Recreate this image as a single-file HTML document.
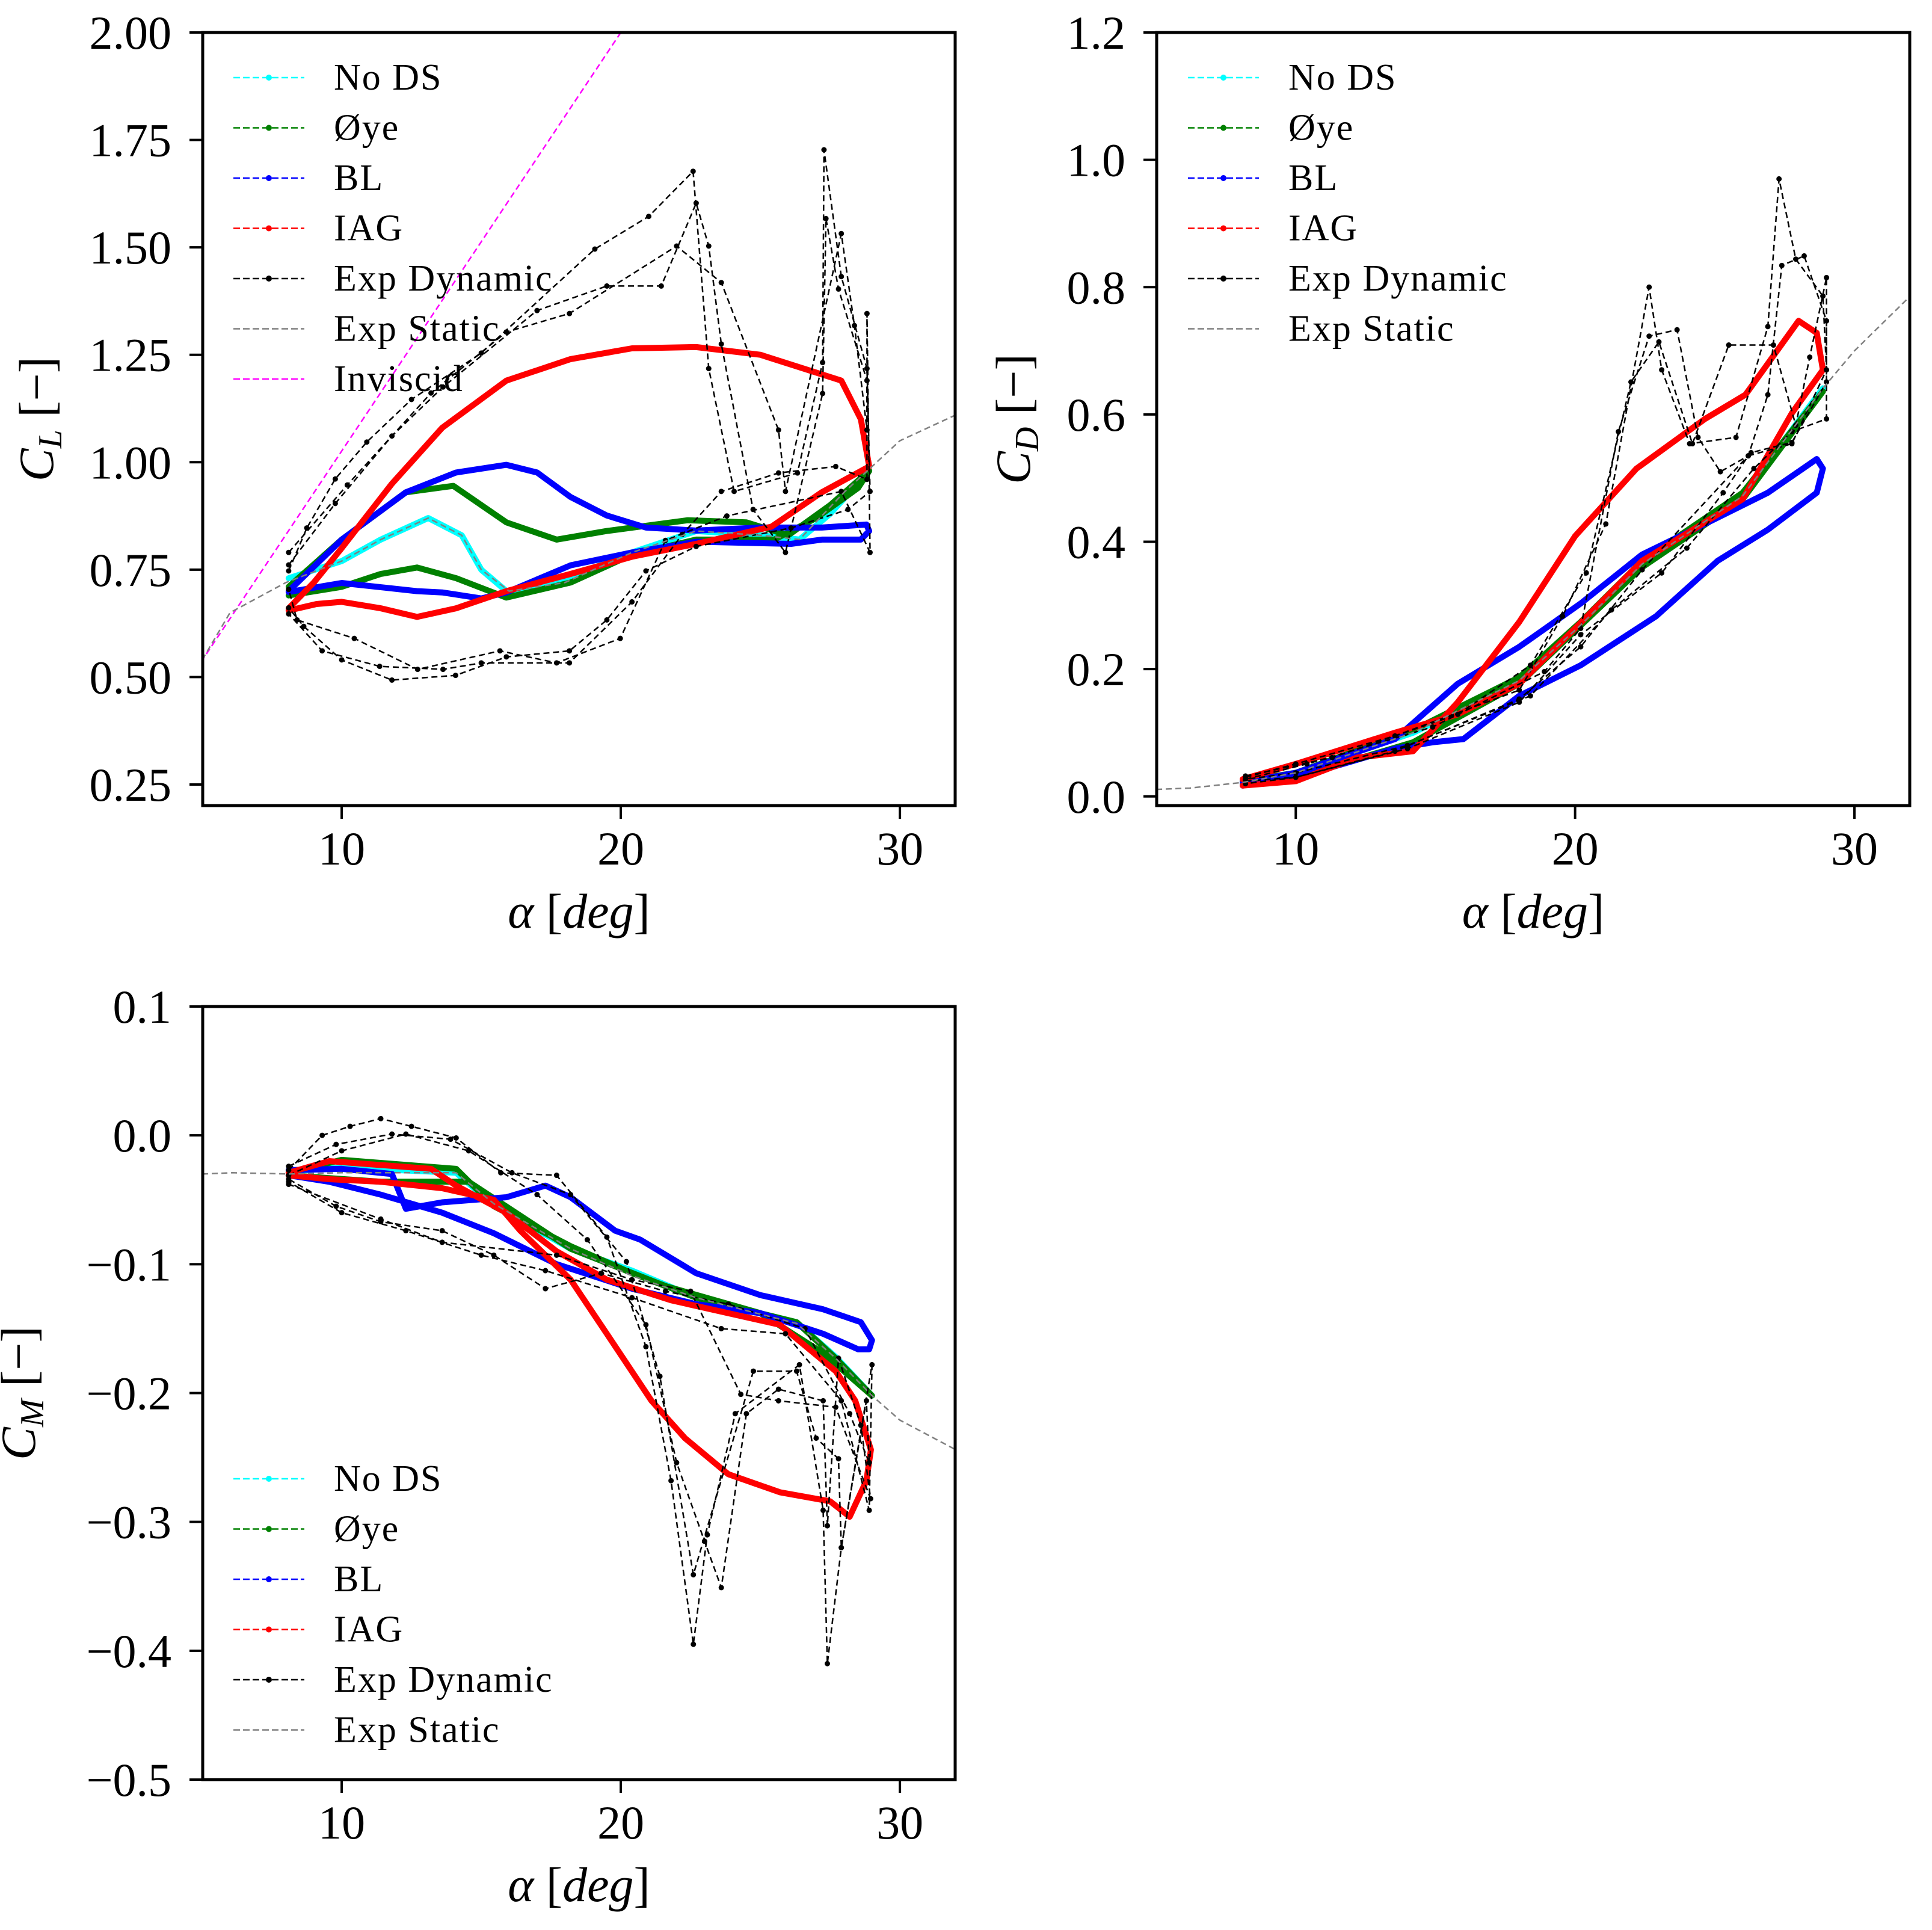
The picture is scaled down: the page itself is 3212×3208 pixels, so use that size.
<!DOCTYPE html>
<html><head><meta charset="utf-8"><style>
html,body{margin:0;padding:0;background:#fff}
svg{display:block;font-family:"Liberation Serif","DejaVu Serif",serif}
</style></head><body>
<svg id="fig" width="3212" height="3208" viewBox="0 0 3212 3208" xmlns="http://www.w3.org/2000/svg"></svg>
<script>
// ---------- DATA ----------
const xTicks = [10, 20, 30];
const clTicks = [0.25, 0.50, 0.75, 1.00, 1.25, 1.50, 1.75, 2.00];
const cdTicks = [0.0, 0.2, 0.4, 0.6, 0.8, 1.0, 1.2];
const cmTicks = [-0.5, -0.4, -0.3, -0.2, -0.1, 0.0, 0.1];

const clIAG = [[8.1,0.66],[9,0.72],[10,0.80],[11.8,0.95],[13.6,1.08],[15.9,1.19],[18.2,1.24],[20.4,1.265],[22.7,1.268],[25,1.25],[27.9,1.19],[28.6,1.10],[28.9,0.99],[27.2,0.93],[25.4,0.85],[22.7,0.81],[20.4,0.78],[18.2,0.74],[15.9,0.70],[14.1,0.66],[12.7,0.64],[11.4,0.66],[10,0.675],[9.1,0.67],[8.1,0.655]];
const clBL = [[8.1,0.70],[10,0.82],[12.3,0.93],[14.1,0.976],[15.9,0.994],[17,0.976],[18.2,0.919],[19.5,0.876],[20.9,0.848],[22.7,0.841],[25,0.848],[27.2,0.848],[28.8,0.855],[28.9,0.84],[28.6,0.82],[27.2,0.82],[26.1,0.81],[22.7,0.815],[20.4,0.79],[18.2,0.76],[15.9,0.697],[15,0.683],[13.6,0.697],[12.7,0.70],[10,0.719],[8.1,0.698]];
const clOye = [[8.1,0.71],[10,0.82],[12.3,0.93],[14,0.945],[15.9,0.86],[17.7,0.82],[19.5,0.84],[22.4,0.865],[24.5,0.86],[26,0.83],[27.5,0.90],[28.9,0.98],[28.5,0.94],[27,0.87],[25.5,0.82],[22.7,0.82],[20.4,0.785],[18.2,0.72],[15.9,0.685],[14.1,0.73],[12.7,0.755],[11.4,0.74],[10,0.71],[8.1,0.69]];
const clNoDS = [[8.1,0.73],[10,0.77],[11.4,0.82],[13.1,0.87],[14.3,0.83],[15,0.75],[15.9,0.70],[17.7,0.72],[20.4,0.79],[22.7,0.84],[25,0.83],[26.4,0.82],[27.5,0.88],[28.9,0.98]];
const clStatic = [[5,0.54],[6,0.65],[8,0.72],[10,0.77],[11.4,0.82],[13.1,0.87],[14.3,0.83],[15,0.75],[16,0.70],[18,0.72],[20.4,0.79],[22.7,0.84],[25,0.83],[26.4,0.82],[28,0.93],[30,1.05],[32,1.11]];
const clInviscid = [[4.96,0.535],[20.0,2.0]];
const clExp1 = [[8.1,0.747],[8.75,0.847],[9.77,0.961],[10.9,1.047],[12.5,1.146],[15.0,1.254],[19.07,1.496],[21.0,1.572],[22.59,1.677],[23.15,1.218],[24.06,0.932],[26.33,0.975],[27.23,1.232],[27.28,1.727],[27.9,1.432],[28.82,1.218],[28.93,0.932],[28.14,0.890],[26.1,0.847],[22.7,0.804],[20.9,0.747],[19.5,0.633],[18.16,0.561],[15.9,0.547],[14.08,0.504],[11.8,0.493],[10,0.54],[8.64,0.618],[8.1,0.661]];
const clExp2 = [[8.1,0.761],[9.77,0.904],[11.8,1.061],[13.63,1.175],[17.0,1.353],[19.5,1.41],[21.45,1.41],[22.7,1.603],[23.15,1.503],[23.6,1.275],[24.74,0.89],[25.9,0.79],[27.23,1.16],[27.35,1.567],[27.8,1.403],[28.82,1.19],[28.82,0.96],[27.7,0.99],[25.65,0.975],[23.6,0.932],[22.2,0.832],[20.4,0.675],[18.16,0.533],[15.0,0.533],[13.63,0.518],[11.36,0.525],[9.3,0.561],[8.1,0.647]];
const clExp3 = [[8.1,0.79],[10.2,0.947],[13.2,1.161],[15.9,1.303],[18.16,1.346],[22.0,1.503],[23.6,1.418],[25.65,1.075],[25.9,0.932],[27.9,1.532],[28.37,1.318],[28.82,1.075],[28.82,1.346],[28.93,0.79],[27.9,0.932],[23.8,0.875],[21.6,0.818],[19.98,0.59],[17.7,0.533],[15.67,0.561],[12.72,0.518],[10.45,0.59],[8.4,0.633],[8.1,0.704]];

const cdIAG = [[8.1,0.017],[10,0.024],[12.2,0.061],[14.2,0.071],[15.8,0.148],[18.0,0.274],[20,0.409],[22.2,0.515],[24.65,0.593],[26.1,0.631],[28.0,0.747],[28.65,0.728],[28.87,0.67],[27.76,0.602],[26,0.467],[22.4,0.370],[20,0.264],[18,0.177],[15.8,0.129],[13.55,0.10],[10,0.051],[8.1,0.027]];
const cdBL = [[8.1,0.022],[10,0.037],[13.55,0.09],[15.8,0.177],[18,0.235],[20.2,0.303],[22.4,0.38],[24.65,0.428],[26.9,0.477],[28.65,0.53],[28.87,0.515],[28.65,0.477],[26.9,0.419],[25.1,0.37],[22.9,0.283],[20.2,0.206],[18,0.158],[16,0.09],[14.9,0.085],[13.55,0.075],[11.3,0.046],[8.1,0.017]];
const cdOye = [[8.1,0.024],[10,0.037],[14.2,0.104],[18,0.187],[20.2,0.274],[22.4,0.37],[26,0.477],[28.87,0.636],[26,0.467],[22.4,0.36],[18,0.177],[14.2,0.085],[10,0.03],[8.1,0.02]];
const cdNoDS = [[8.1,0.022],[10,0.037],[14.2,0.10],[18,0.182],[20.2,0.269],[22.4,0.365],[26,0.472],[28.87,0.641]];
const cdStatic = [[5,0.011],[6.2,0.013],[8.1,0.022],[10,0.037],[14.2,0.10],[18,0.182],[20.2,0.269],[22.4,0.365],[26,0.472],[28.87,0.641],[30,0.70],[32,0.786]];
const cdExp1 = [[8.2,0.03],[10,0.051],[13.55,0.095],[18,0.167],[19.55,0.283],[21.1,0.428],[22.65,0.80],[23.1,0.67],[24.1,0.554],[25.76,0.564],[26.9,0.738],[27.3,0.97],[27.9,0.844],[28.87,0.786],[29,0.67],[27.76,0.554],[26.2,0.535],[25.3,0.477],[23.1,0.351],[20.2,0.254],[18,0.148],[14,0.075],[10,0.03],[8.2,0.024]];
const cdExp2 = [[8.2,0.027],[10.4,0.051],[14.9,0.109],[18.9,0.196],[20.2,0.264],[21.55,0.573],[22.65,0.723],[23.65,0.733],[24.4,0.564],[25.2,0.51],[26.2,0.535],[26.9,0.631],[27.4,0.834],[28.2,0.849],[29,0.747],[29,0.651],[27.76,0.556],[26.3,0.54],[22.4,0.356],[20.2,0.235],[18,0.153],[13.55,0.071],[10,0.03],[8.2,0.02]];
const cdExp3 = [[8.2,0.032],[11.3,0.061],[15.8,0.129],[18.4,0.206],[20.4,0.351],[22,0.651],[23,0.714],[24.2,0.554],[25.5,0.709],[27.1,0.709],[27.9,0.583],[28.4,0.69],[29,0.815],[29,0.593],[27.76,0.573],[26.4,0.515],[24,0.39],[21.3,0.293],[18.4,0.158],[14,0.08],[10,0.037],[8.2,0.027]];

const cmIAG = [[8.1,-0.029],[9.55,-0.020],[13.2,-0.026],[14.1,-0.039],[15.9,-0.060],[17.7,-0.090],[19.5,-0.112],[21.8,-0.128],[25.7,-0.147],[27.7,-0.183],[28.4,-0.206],[28.96,-0.244],[28.8,-0.268],[28.2,-0.296],[27.5,-0.284],[25.7,-0.277],[23.85,-0.263],[22.3,-0.235],[21.1,-0.206],[19.5,-0.154],[18.2,-0.112],[16.4,-0.074],[15.45,-0.050],[13.6,-0.041],[11.4,-0.036],[9.55,-0.034],[8.1,-0.031]];
const cmBL = [[8.1,-0.027],[10,-0.026],[11.8,-0.030],[12.3,-0.057],[13.6,-0.052],[15.9,-0.048],[17.3,-0.039],[18.2,-0.048],[19.8,-0.074],[20.7,-0.081],[22.7,-0.107],[25,-0.124],[27.25,-0.135],[28.6,-0.145],[29,-0.159],[28.9,-0.166],[28.5,-0.166],[27.25,-0.154],[25,-0.138],[22.7,-0.131],[20.4,-0.119],[17.7,-0.100],[15.45,-0.076],[13.6,-0.060],[11.4,-0.046],[9.55,-0.036],[8.1,-0.031]];
const cmOye = [[8.1,-0.029],[10,-0.019],[14.1,-0.026],[15.45,-0.055],[18.2,-0.086],[20.4,-0.107],[22.7,-0.126],[26.3,-0.145],[27.7,-0.173],[29,-0.202],[27.25,-0.169],[25,-0.138],[21.6,-0.117],[18.2,-0.088],[14.55,-0.036],[11.4,-0.036],[8.1,-0.031]];
const cmNoDS = [[8.1,-0.028],[10,-0.025],[14.1,-0.029],[15.5,-0.055],[18.2,-0.088],[20.4,-0.105],[22.7,-0.126],[26.3,-0.145],[27.7,-0.172],[29,-0.202]];
const cmStatic = [[5,-0.030],[6.1,-0.029],[8.1,-0.030],[10,-0.029],[14.1,-0.029],[15.45,-0.053],[18.2,-0.088],[20.4,-0.109],[22.7,-0.126],[26.3,-0.146],[27.7,-0.173],[29,-0.202],[30,-0.221],[32,-0.244]];
const cmExp1 = [[8.1,-0.027],[9.3,0.0],[10.3,0.007],[11.4,0.013],[12.5,0.007],[14.1,-0.002],[15.7,-0.029],[17.7,-0.031],[19.5,-0.079],[20.9,-0.164],[21.8,-0.268],[22.6,-0.395],[23.1,-0.31],[24.1,-0.216],[26.4,-0.178],[27.25,-0.291],[27.4,-0.410],[27.9,-0.32],[28.8,-0.206],[28.9,-0.254],[28.2,-0.216],[26.6,-0.150],[23.85,-0.131],[21.6,-0.121],[19.3,-0.107],[17.3,-0.119],[15.45,-0.093],[13.6,-0.074],[11.4,-0.067],[9.8,-0.055],[8.1,-0.034]];
const cmExp2 = [[8.1,-0.024],[9.8,-0.007],[11.8,0.001],[13.9,-0.003],[16.1,-0.029],[18.2,-0.046],[20.2,-0.098],[21.4,-0.187],[22.6,-0.341],[24.75,-0.183],[26.3,-0.183],[27.0,-0.235],[27.8,-0.251],[27.9,-0.32],[29,-0.178],[28.9,-0.291],[27.9,-0.206],[25.9,-0.154],[23.6,-0.150],[20.4,-0.126],[17.3,-0.105],[15.0,-0.093],[12.3,-0.074],[10,-0.060],[8.1,-0.036]];
const cmExp3 = [[8.1,-0.031],[10,-0.012],[12.3,0.001],[14.55,-0.012],[17.0,-0.046],[18.8,-0.081],[20.9,-0.147],[22,-0.254],[23,-0.315],[23.6,-0.351],[24.5,-0.216],[25.65,-0.197],[27.25,-0.206],[27.4,-0.303],[27.8,-0.173],[28.6,-0.225],[28.95,-0.282],[27.7,-0.211],[25.65,-0.206],[24.3,-0.201],[22.5,-0.121],[20.4,-0.112],[17.7,-0.093],[13.6,-0.083],[11.4,-0.065],[8.1,-0.038]];

const legendLabels = ["No DS","Øye","BL","IAG","Exp Dynamic","Exp Static","Inviscid"];
const legendColors = ["#00ffff","#008000","#0000ff","#ff0000","#000000","#808080","#ff00ff"];

// ---------- DRAW ----------
const NS = "http://www.w3.org/2000/svg";
const fig = document.getElementById('fig');
function mk(tag, attrs, parent){
  const e = document.createElementNS(NS, tag);
  for (const k in attrs) e.setAttribute(k, attrs[k]);
  (parent||fig).appendChild(e);
  return e;
}
function makeAxes(name, L, T, R, B, xmin, xmax, ymin, ymax){
  const g = mk('g', {});
  
  
  const sx = v => L + (v - xmin) / (xmax - xmin) * (R - L);
  const sy = v => B - (v - ymin) / (ymax - ymin) * (B - T);
  const cp = mk('clipPath', {id: name + '-clip'}, g);
  mk('rect', {x: L, y: T, width: R - L, height: B - T}, cp);
  const plot = mk('g', {'clip-path': 'url(#' + name + '-clip)'}, g);
  return {g, plot, sx, sy, L, T, R, B};
}
function line(ax, pts, color, width, dash, name, markers){
  const d = pts.map((p,i)=>(i?'L':'M') + ax.sx(p[0]).toFixed(1) + ' ' + ax.sy(p[1]).toFixed(1)).join(' ');
  const p = mk('path', {d, fill:'none', stroke:color, 'stroke-width':width, 'stroke-linejoin':'round', 'stroke-linecap': dash ? 'butt':'round'}, ax.plot);
  if (dash) p.setAttribute('stroke-dasharray', dash);
  
  
  if (markers){
    pts.forEach(pt=>{
      const c = mk('circle', {cx: ax.sx(pt[0]), cy: ax.sy(pt[1]), r: 4.5, fill: color}, ax.plot);
      
      
    });
  }
}
function frame(ax, yTicksArr, yFmt, xLabelY, yLabelX, yLabelHTML){
  const fr = mk('rect', {x: ax.L, y: ax.T, width: ax.R - ax.L, height: ax.B - ax.T, fill:'none', stroke:'#000', 'stroke-width':5}, ax.g);
  
  
  xTicks.forEach(v=>{
    const x = ax.sx(v);
    mk('line', {x1:x, x2:x, y1:ax.B, y2:ax.B+22, stroke:'#000', 'stroke-width':4}, ax.g);
    const t = mk('text', {x:x, y:ax.B+98, 'font-size':78, 'text-anchor':'middle'}, ax.g);
    t.textContent = String(v);
    
    
  });
  yTicksArr.forEach(v=>{
    const y = ax.sy(v);
    mk('line', {x1:ax.L-22, x2:ax.L, y1:y, y2:y, stroke:'#000', 'stroke-width':4}, ax.g);
    const t = mk('text', {x:ax.L-52, y:y+27, 'font-size':78, 'text-anchor':'end'}, ax.g);
    t.textContent = yFmt(v);
    
    
  });
  const xl = mk('text', {x:(ax.L+ax.R)/2, y:xLabelY, 'font-size':82, 'text-anchor':'middle'}, ax.g);
  xl.innerHTML = '<tspan font-style="italic">α</tspan> [<tspan font-style="italic">deg</tspan>]';
  
  
  const cy = (ax.T+ax.B)/2;
  const yl = mk('text', {x:yLabelX, y:cy, 'font-size':82, 'text-anchor':'middle', transform:'rotate(-90 '+yLabelX+' '+cy+')'}, ax.g);
  yl.innerHTML = yLabelHTML;
  
  
}
function legend(ax, x0, y0, n){
  for (let i=0;i<n;i++){
    const y = y0 + i*83.5;
    const g = mk('g', {}, ax.g);
    
    
    mk('line', {x1:x0, x2:x0+118, y1:y, y2:y, stroke:legendColors[i], 'stroke-width':2.5, 'stroke-dasharray':'11 5'}, g);
    if (i < 5) mk('circle', {cx:x0+59, cy:y, r:5, fill:legendColors[i]}, g);
    const t = mk('text', {x:x0+167, y:y+20, 'font-size':62, 'letter-spacing':'2'}, g);
    t.textContent = legendLabels[i];
  }
}
const f2 = v => v.toFixed(2);
const f1 = v => (v<0 ? '−' : '') + Math.abs(v).toFixed(1);
const DASH = '10 6';

// CL
const axL = makeAxes('cl-axes', 337, 54, 1588, 1339, 5.02, 31.98, 0.201, 2.0);
line(axL, clInviscid, '#ff00ff', 2.5, DASH, 'inviscid-line');
line(axL, clNoDS, '#00ffff', 10, null, 'no-ds-line');
line(axL, clOye, '#008000', 10, null, 'oye-line');
line(axL, clBL, '#0000ff', 10, null, 'bl-line');
line(axL, clIAG, '#ff0000', 10, null, 'iag-line');
line(axL, clExp1, '#000', 2.5, DASH, 'exp-dynamic-cycle1', true);
line(axL, clExp2, '#000', 2.5, DASH, 'exp-dynamic-cycle2', true);
line(axL, clExp3, '#000', 2.5, DASH, 'exp-dynamic-cycle3', true);
line(axL, clStatic, '#808080', 2.5, DASH, 'exp-static-line');
frame(axL, clTicks, f2, 1542, 88, '<tspan font-style="italic">C</tspan><tspan font-style="italic" font-size="56" dy="14">L</tspan><tspan dy="-14"> [−]</tspan>');
legend(axL, 388, 129, 7);

// CD
const axD = makeAxes('cd-axes', 1923, 54, 3175, 1339, 5.02, 31.98, -0.0144, 1.2);
line(axD, cdNoDS, '#00ffff', 10, null, 'no-ds-line');
line(axD, cdOye, '#008000', 10, null, 'oye-line');
line(axD, cdBL, '#0000ff', 10, null, 'bl-line');
line(axD, cdIAG, '#ff0000', 10, null, 'iag-line');
line(axD, cdExp1, '#000', 2.5, DASH, 'exp-dynamic-cycle1', true);
line(axD, cdExp2, '#000', 2.5, DASH, 'exp-dynamic-cycle2', true);
line(axD, cdExp3, '#000', 2.5, DASH, 'exp-dynamic-cycle3', true);
line(axD, cdStatic, '#808080', 2.5, DASH, 'exp-static-line');
frame(axD, cdTicks, v=>v.toFixed(1), 1542, 1712, '<tspan font-style="italic">C</tspan><tspan font-style="italic" font-size="56" dy="14">D</tspan><tspan dy="-14"> [−]</tspan>');
legend(axD, 1975, 129, 6);

// CM
const axM = makeAxes('cm-axes', 337, 1673, 1588, 2958, 5.02, 31.98, -0.5, 0.1);
line(axM, cmNoDS, '#00ffff', 10, null, 'no-ds-line');
line(axM, cmOye, '#008000', 10, null, 'oye-line');
line(axM, cmBL, '#0000ff', 10, null, 'bl-line');
line(axM, cmIAG, '#ff0000', 10, null, 'iag-line');
line(axM, cmExp1, '#000', 2.5, DASH, 'exp-dynamic-cycle1', true);
line(axM, cmExp2, '#000', 2.5, DASH, 'exp-dynamic-cycle2', true);
line(axM, cmExp3, '#000', 2.5, DASH, 'exp-dynamic-cycle3', true);
line(axM, cmStatic, '#808080', 2.5, DASH, 'exp-static-line');
frame(axM, cmTicks, f1, 3160, 58, '<tspan font-style="italic">C</tspan><tspan font-style="italic" font-size="56" dy="14">M</tspan><tspan dy="-14"> [−]</tspan>');
legend(axM, 388, 2458, 6);
</script>
</body></html>
